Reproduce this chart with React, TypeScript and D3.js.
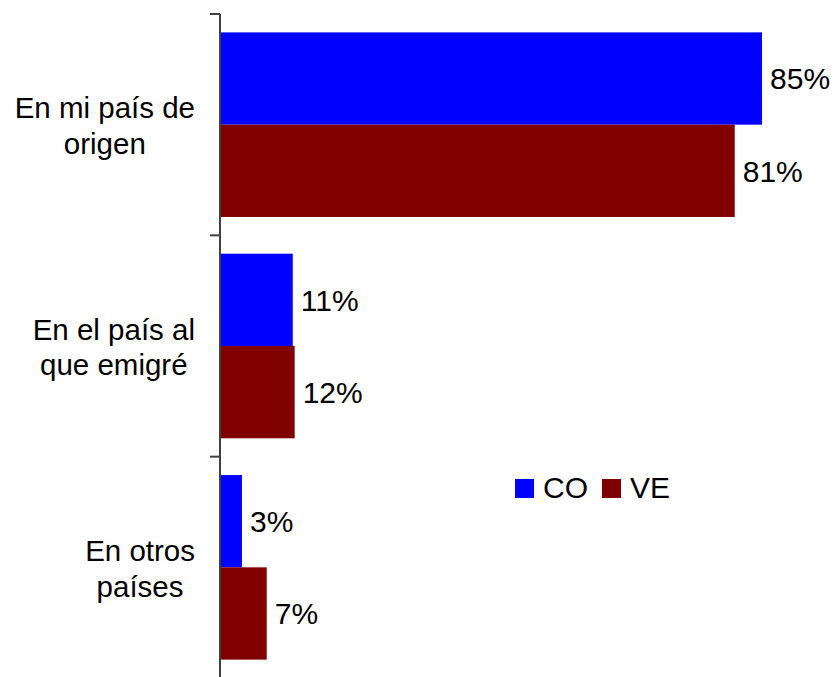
import React, { useRef, useEffect } from "react";
import { select, scaleLinear, scaleBand } from "d3";

const categories = [["En mi país de", "origen"], ["En el país al", "que emigré"], ["En otros", "países"]];
const series = ["CO", "VE"];
const coValues = [85.2, 11.3, 3.3];
const veValues = [80.9, 11.6, 7.2];
const colors = ["#0000ff", "#800000"];

function App() {
  const svgRef = useRef(null);

  useEffect(() => {
    const svg = select(svgRef.current);
    svg.selectAll("*").remove();
    const font = "'Liberation Sans', Arial, sans-serif";

    const y = scaleBand()
      .domain(categories.map((c, i) => String(i)))
      .range([14, 678])
      .paddingInner(0.166)
      .paddingOuter(0.083);
    const x = scaleLinear().domain([0, 100]).range([221, 856]);
    const sub = scaleBand().domain(series).range([0, y.bandwidth()]);

    const rows = categories.map((c, i) => ({ i, vals: [coValues[i], veValues[i]] }));

    const g = svg.selectAll(".cat").data(rows).join("g").attr("class", "cat")
      .attr("transform", (d) => `translate(0,${y(String(d.i))})`);

    g.selectAll("rect")
      .data((d) => d.vals.map((v, k) => ({ v, k })))
      .join("rect")
      .attr("x", x(0))
      .attr("y", (d) => sub(series[d.k]))
      .attr("width", (d) => x(d.v) - x(0))
      .attr("height", sub.bandwidth())
      .attr("fill", (d) => colors[d.k]);

    g.selectAll("text.val")
      .data((d) => d.vals.map((v, k) => ({ v, k })))
      .join("text")
      .attr("class", "val")
      .attr("x", (d) => x(d.v) + 8)
      .attr("y", (d) => sub(series[d.k]) + sub.bandwidth() / 2)
      .attr("dy", "0.36em")
      .attr("font-family", font)
      .attr("font-size", 30)
      .text((d) => `${Math.round(d.v)}%`);

    // axis line + ticks at band boundaries
    const step = y.step();
    svg.append("line").attr("x1", 220).attr("x2", 220).attr("y1", 14).attr("y2", 678)
      .attr("stroke", "#404040").attr("stroke-width", 2);
    [0, 1, 2].forEach((k) => {
      svg.append("line").attr("x1", 210).attr("x2", 220)
        .attr("y1", 14 + k * step).attr("y2", 14 + k * step)
        .attr("stroke", "#404040").attr("stroke-width", 2);
    });

    // category labels: block right-aligned, lines centred inside it
    categories.forEach((lines, i) => {
      const cy = y(String(i)) + y.bandwidth() / 2;
      const t = svg.append("g");
      const texts = lines.map((ln, j) =>
        t.append("text")
          .attr("font-family", font)
          .attr("font-size", 29.5)
          .attr("text-anchor", "middle")
          .attr("y", cy + (j - (lines.length - 1) / 2) * 35.5 + 11.5)
          .text(ln)
      );
      const w = Math.max(...texts.map((tx) => tx.node().getComputedTextLength()));
      texts.forEach((tx) => tx.attr("x", 195 - w / 2));
    });

    // legend
    const leg = svg.append("g").attr("transform", "translate(515,479)");
    const offs = [0, 87];
    series.forEach((s, k) => {
      leg.append("rect").attr("x", offs[k]).attr("y", 0).attr("width", 19).attr("height", 19)
        .attr("fill", colors[k]);
      leg.append("text").attr("x", offs[k] + 28).attr("y", 19)
        .attr("font-family", font).attr("font-size", 30).text(s);
    });
  }, []);

  return (
    <svg ref={svgRef} width={835} height={677}
      style={{ position: "absolute", left: 0, top: 0, background: "#fff" }} />
  );
}

export default App;
